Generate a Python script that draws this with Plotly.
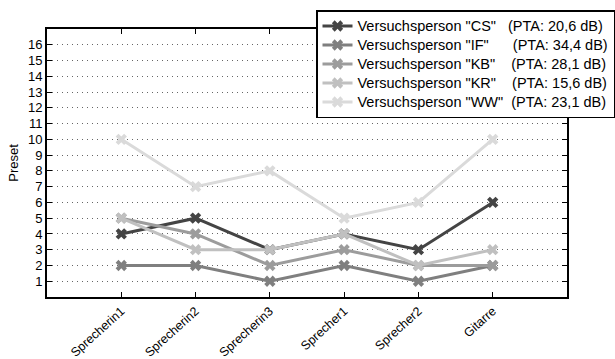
import plotly.graph_objects as go

categories = ["Sprecherin1", "Sprecherin2", "Sprecherin3", "Sprecher1", "Sprecher2", "Gitarre"]
persons = ["CS", "IF", "KB", "KR", "WW"]
pta = ["20,6", "34,4", "28,1", "15,6", "23,1"]
cs = [4, 5, 3, 4, 3, 6]
if_ = [2, 2, 1, 2, 1, 2]
kb = [5, 4, 2, 3, 2, 2]
kr = [5, 3, 3, 4, 2, 3]
ww = [10, 7, 8, 5, 6, 10]
series = [cs, if_, kb, kr, ww]
yticks = list(range(1, 17))

colors = ["#444444", "#7f7f7f", "#9c9c9c", "#c0c0c0", "#dadada"]
pad = [3, 6, 4, 4, 2]  # spaces between name and PTA column
FONT = "Liberation Sans, Arial, Helvetica, sans-serif"

W, H = 615, 359
ML, MR, MT, MB = 47, 48, 29, 62
PW, PH = W - ML - MR, H - MT - MB

def px_x(x):
    return (x - ML) / PW

def px_y(y):
    return (H - MB - y) / PH

fig = go.Figure()
for name, vals, col, p, n in zip(persons, series, colors, pta, pad):
    label = f'Versuchsperson "{name}"' + "\u00a0" * n + f"(PTA: {p} dB)"
    fig.add_trace(go.Scatter(
        x=categories, y=vals, mode="lines+markers",
        name=f'<span style="font-size:14.5px">{label}</span>',
        line=dict(color=col, width=3),
        marker=dict(symbol="x", size=10, color=col, line=dict(width=0)),
    ))

fig.update_layout(
    width=W, height=H,
    margin=dict(l=ML, r=MR, t=MT, b=MB, autoexpand=False),
    paper_bgcolor="white", plot_bgcolor="white",
    font=dict(family=FONT, size=12, color="black"),
    showlegend=True,
    legend=dict(x=px_x(316), y=px_y(10), xanchor="left", yanchor="top",
                bgcolor="white", bordercolor="black", borderwidth=1.5,
                font=dict(size=12, family=FONT), tracegroupgap=0,
                itemwidth=30),
    xaxis=dict(type="category", range=[-1, 6], tickangle=-42, automargin=False,
               showline=True, linecolor="black", linewidth=2, mirror="ticks",
               ticks="inside", ticklen=5, tickcolor="black", showgrid=False,
               tickfont=dict(size=12.5)),
    yaxis=dict(range=[0, 17], tickvals=yticks, ticktext=[str(v) for v in yticks],
               automargin=False,
               showline=True, linecolor="black", linewidth=2, mirror="ticks",
               ticks="inside", ticklen=5, tickcolor="black",
               showgrid=True, gridcolor="#666666", griddash="1px,4px", gridwidth=1,
               zeroline=False, tickfont=dict(size=13),
               title=dict(text="Preset", font=dict(size=13), standoff=6)),
)

fig.write_html("out.html")
